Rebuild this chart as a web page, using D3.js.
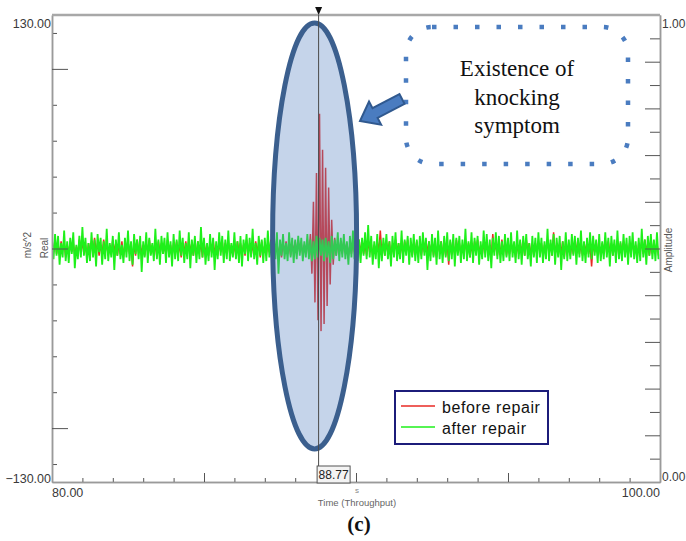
<!DOCTYPE html>
<html>
<head>
<meta charset="utf-8">
<script src="https://cdn.jsdelivr.net/npm/d3@7"></script>
<style>
  body { margin: 0; background: #fff; }
  svg { display: block; }
</style>
</head>
<body>
<div id="chartbox"></div>
<script>
// acceleration (m/s^2), one sample every 0.05 s from 80.00 s
var afterRepair = [
  5,-6,8,-4,7,-9,3,-5,10,-7,4,-8,6,-3,9,-11,2,-6,7,-5,
  12,-4,6,-8,3,-7,9,-5,5,-10,8,-2,6,-9,4,-6,11,-7,3,-5,
  7,-12,5,-4,9,-6,2,-8,6,-5,10,-7,4,-9,8,-3,5,-6,7,-13,
  4,-5,9,-8,6,-4,3,-7,11,-6,5,-9,7,-3,6,-8,9,-5,4,-10,
  8,-6,5,-7,10,-4,6,-8,3,-6,9,-11,5,-4,7,-8,4,-6,12,-5,
  6,-9,3,-7,8,-5,6,-12,4,-6,9,-4,7,-8,5,-6,10,-7,3,-5,
  9,-6,4,-8,7,-10,5,-3,8,-7,6,-5,11,-6,3,-9,7,-4,5,-8,
  6,-7,10,-5,4,-8,7,-6,9,-14,5,-4,8,-6,3,-7,9,-5,6,-8,
  5,-6,7,-4,6,-7,4,-5,8,-6,5,-7,4,-6,7,-5,6,-4,5,-7,
  6,-5,4,-8,7,-6,5,-4,9,-7,6,-5,8,-6,4,-9,7,-5,10,-6,
  11,-7,5,-8,6,-4,9,-6,13,-5,7,-9,4,-6,8,-11,5,-7,6,-4,
  8,-6,4,-10,7,-5,9,-7,3,-6,10,-8,5,-4,7,-9,6,-5,8,-7,
  5,-8,7,-6,9,-4,6,-12,4,-7,8,-5,6,-9,10,-6,4,-8,7,-5,
  9,-7,5,-6,8,-10,6,-4,7,-8,5,-6,11,-7,4,-5,9,-8,6,-4,
  7,-9,4,-6,10,-5,8,-7,5,-11,6,-4,9,-6,7,-8,4,-7,8,-5,
  6,-7,9,-5,4,-8,10,-6,5,-9,7,-4,8,-6,3,-10,7,-5,6,-8,
  9,-5,6,-8,4,-6,11,-7,5,-4,8,-9,6,-5,7,-12,4,-6,9,-7,
  5,-6,8,-4,7,-9,6,-5,10,-7,4,-8,6,-5,9,-6,7,-4,5,-8,
  8,-7,4,-6,9,-5,6,-10,7,-4,5,-8,10,-6,4,-7,8,-5,6,-9,
  7,-5,9,-6,4,-8,6,-7,11,-5,5,-9,7,-4,8,-6,5,-7,9,-6
];
var beforeRepair = [
  3,-2,5,-3,2,-4,4,-1,3,-5,2,-3,4,-2,3,-4,1,-3,5,-2,
  4,-3,2,-5,3,-2,4,-3,6,-2,3,-4,2,-3,5,-2,3,-4,2,-3,
  5,-2,3,-4,2,-3,4,-5,3,-2,4,-3,2,-10,3,-4,5,-2,3,-3,
  2,-4,3,-2,5,-3,2,-4,3,-5,4,-2,3,-3,2,-4,5,-3,2,-4,
  3,-2,4,-3,2,-5,3,-2,4,-3,5,-2,3,-4,2,-3,4,-2,3,-5,
  4,-3,2,-4,3,-2,5,-3,2,-4,3,-2,4,-5,3,-2,4,-3,2,-4,
  3,-5,4,-2,3,-3,2,-4,5,-2,3,-4,2,-3,4,-2,3,-5,4,-3,
  2,-4,3,-2,5,-3,4,-2,3,-4,2,-5,3,-2,4,-3,2,-4,3,-2,
  4,-3,5,-2,3,-4,2,-3,5,-4,8,-14,26,-30,42,-40,75,-46,55,-42,
  45,-32,34,-20,16,-9,6,-4,3,-2,4,-3,5,-2,3,-4,2,-3,4,-2,
  3,-4,5,-2,3,-3,2,-4,4,-2,3,-5,2,-3,4,-2,10,-3,2,-4,
  3,-2,4,-5,2,-3,5,-2,3,-4,2,-3,4,-2,5,-3,2,-4,3,-2,
  4,-3,2,-4,3,-2,5,-3,4,-2,3,-4,2,-5,3,-2,4,-3,2,-4,
  3,-9,4,-2,3,-4,5,-2,3,-3,2,-4,4,-2,3,-5,2,-3,4,-2,
  5,-3,2,-4,3,-2,4,-3,2,-4,8,-2,3,-4,2,-3,5,-2,3,-4,
  2,-3,4,-2,3,-5,2,-3,4,-2,3,-4,5,-2,3,-3,2,-4,3,-2,
  4,-2,3,-4,2,-3,5,-2,3,-4,9,-3,2,-4,3,-2,4,-5,3,-2,
  3,-4,2,-3,4,-2,5,-3,2,-4,3,-2,4,-3,2,-10,3,-2,4,-3,
  2,-4,3,-2,5,-3,4,-2,3,-4,2,-3,4,-5,3,-2,4,-3,2,-4,
  3,-2,4,-3,2,-5,3,-2,4,-3,5,-2,3,-4,2,-3,4,-2,3,-4
];
var tStart = 80, tStep = 0.05;
var seriesNames = ["before repair", "after repair"];
var seriesColors = ["#e82a24", "#1ef01a"];
var yMinorTicks = [-120, -80, -60, -40, -20, 20, 40, 60, 80, 120];
var yMajorTicks = [-100, 0, 100];
var xMinorTicks = [81, 82, 83, 84, 86, 87, 88, 89, 91, 92, 93, 94, 96, 97, 98, 99];
var xMajorTicks = [85, 90, 95];
var ampMinorTicks = [0.05, 0.15, 0.25, 0.35, 0.45, 0.55, 0.65, 0.75, 0.85, 0.95];
var ampMajorTicks = [0.1, 0.2, 0.3, 0.4, 0.5, 0.6, 0.7, 0.8, 0.9];
var cursorTime = 88.77;
var calloutLines = ["Existence of", "knocking", "symptom"];

var sans = '"Liberation Sans", Arial, sans-serif';
var serif = '"Liberation Serif", "Times New Roman", serif';

var W = 686, H = 541;
var margin = { top: 15, right: 26, bottom: 59, left: 52 },
    width = W - margin.left - margin.right,
    height = H - margin.top - margin.bottom;

var svg = d3.select('#chartbox').append('svg')
    .attr('width', W)
    .attr('height', H)
    .style('background', '#fff');
var g = svg.append('g')
    .attr('transform', 'translate(' + [margin.left, margin.top] + ')');

var x = d3.scaleLinear().domain([80, 100]).range([0, width]);
var y = d3.scaleLinear().domain([-130, 130]).range([height, 0]);
var yAmp = d3.scaleLinear().domain([0, 1]).range([height, 0]);

g.append('clipPath').attr('id', 'plotclip')
  .append('rect').attr('width', width).attr('height', height);

// signals: red underneath, green on top
var line = d3.line()
    .x((d, i) => x(tStart + i * tStep))
    .y(d => y(d));
var plot = g.append('g').attr('clip-path', 'url(#plotclip)');
plot.append('path').datum(beforeRepair)
    .attr('d', line).attr('fill', 'none')
    .attr('stroke', seriesColors[0]).attr('stroke-width', 1.5);
plot.append('path').datum(afterRepair)
    .attr('d', line).attr('fill', 'none')
    .attr('stroke', seriesColors[1]).attr('stroke-width', 1.8);

// axes (ticks point into the plot)
function styleAxis(sel) {
  sel.selectAll('text').remove();
  sel.select('.domain').attr('stroke', '#9a9a9a').attr('stroke-width', 1.5);
  sel.selectAll('.tick line').attr('stroke', '#555');
}
g.append('g').call(d3.axisRight(y).tickValues(yMinorTicks).tickSize(5).tickSizeOuter(0)).call(styleAxis);
g.append('g').call(d3.axisRight(y).tickValues(yMajorTicks).tickSize(16).tickSizeOuter(0)).call(styleAxis);
g.append('g').attr('transform', 'translate(0,' + height + ')')
  .call(d3.axisTop(x).tickValues(xMinorTicks).tickSize(4).tickSizeOuter(0)).call(styleAxis);
g.append('g').attr('transform', 'translate(0,' + height + ')')
  .call(d3.axisTop(x).tickValues(xMajorTicks).tickSize(9).tickSizeOuter(0)).call(styleAxis);
g.append('g').attr('transform', 'translate(' + width + ',0)')
  .call(d3.axisLeft(yAmp).tickValues(ampMinorTicks).tickSize(10).tickSizeOuter(0)).call(styleAxis);
g.append('g').attr('transform', 'translate(' + width + ',0)')
  .call(d3.axisLeft(yAmp).tickValues(ampMajorTicks).tickSize(15).tickSizeOuter(0)).call(styleAxis);
g.append('line')
  .attr('x1', 0).attr('x2', width).attr('y1', 0).attr('y2', 0)
  .attr('stroke', '#a8a8a8').attr('stroke-width', 2.5);

// end labels
function lbl(px, py, txt, anchor, size) {
  return svg.append('text').attr('x', px).attr('y', py).text(txt)
    .attr('text-anchor', anchor || 'start')
    .style('font-family', sans).style('font-size', (size || 12.5) + 'px').style('fill', '#3a3a3a');
}
lbl(margin.left - 1, margin.top + y(130) + 13, d3.format('.2f')(130), 'end');
lbl(margin.left - 1, margin.top + y(-130) + 1, d3.format('.2f')(-130), 'end');
lbl(margin.left, margin.top + height + 15, d3.format('.2f')(80), 'start');
lbl(margin.left + width, margin.top + height + 15, d3.format('.2f')(100), 'end');
lbl(margin.left + width + 2, margin.top + yAmp(1) + 13, d3.format('.2f')(1), 'start', 12);
lbl(margin.left + width + 2, margin.top + yAmp(0) - 1, d3.format('.2f')(0), 'start', 12);
lbl(margin.left + x(90) + 1, margin.top + height + 11, 's', 'middle', 8).style('fill', '#888');
lbl(margin.left + x(90) + 1, margin.top + height + 24, 'Time (Throughput)', 'middle', 9.5).style('fill', '#666');

lbl(0, 0, 'm/s^2', 'middle', 10).style('fill', '#555')
  .attr('transform', 'translate(31,245) rotate(-90)');
lbl(0, 0, 'Real', 'middle', 10).style('fill', '#555')
  .attr('transform', 'translate(48,248) rotate(-90)');
lbl(0, 0, 'Amplitude', 'middle', 10).style('fill', '#555')
  .attr('transform', 'translate(672,250) rotate(-90)');

// highlight ellipse around the knock (translucent, signal shows through)
var cx = margin.left + x(cursorTime) - 4;
svg.append('ellipse')
  .attr('cx', cx).attr('cy', margin.top + y(7))
  .attr('rx', 42).attr('ry', 213)
  .attr('fill', 'rgb(89,132,195)').attr('fill-opacity', 0.35)
  .attr('stroke', '#3b5f8e').attr('stroke-width', 5);

// cursor
var cxCur = margin.left + x(cursorTime);
svg.append('line')
  .attr('x1', cxCur).attr('x2', cxCur)
  .attr('y1', margin.top).attr('y2', margin.top + height - 16)
  .attr('stroke', '#4a4a4a').attr('stroke-width', 1);
svg.append('path')
  .attr('d', 'M' + (cxCur - 3.5) + ',7L' + (cxCur + 3.5) + ',7L' + cxCur + ',15Z')
  .attr('fill', '#111');
svg.append('rect')
  .attr('x', cxCur - 1.5).attr('y', margin.top + height - 16)
  .attr('width', 33).attr('height', 17)
  .attr('fill', '#f3f3f3').attr('stroke', '#555').attr('stroke-width', 1);
lbl(cxCur + 15, margin.top + height - 3, d3.format('.2f')(cursorTime), 'middle', 12).style('fill', '#222');

// callout box
svg.append('rect')
  .attr('x', 406).attr('y', 27).attr('width', 222).attr('height', 137)
  .attr('rx', 26).attr('ry', 26)
  .attr('fill', '#fff')
  .attr('stroke', '#4a7cc0').attr('stroke-width', 4.5)
  .attr('stroke-dasharray', '4.5,17');
calloutLines.forEach(function (t, i) {
  svg.append('text').attr('x', 517).attr('y', 76 + i * 28.5).text(t)
    .attr('text-anchor', 'middle')
    .style('font-family', serif).style('font-size', '23px').style('fill', '#111');
});

// block arrow pointing at the ellipse
var T = [402, 99], P = [360, 121];
var dx = P[0] - T[0], dy = P[1] - T[1], len = Math.hypot(dx, dy);
var u = [dx / len, dy / len], n = [-u[1], u[0]];
var w = 5.5, hw = 13, hl = 17;
var B = [P[0] - u[0] * hl, P[1] - u[1] * hl];
var pts = [
  [T[0] + n[0] * w, T[1] + n[1] * w],
  [B[0] + n[0] * w, B[1] + n[1] * w],
  [B[0] + n[0] * hw, B[1] + n[1] * hw],
  P,
  [B[0] - n[0] * hw, B[1] - n[1] * hw],
  [B[0] - n[0] * w, B[1] - n[1] * w],
  [T[0] - n[0] * w, T[1] - n[1] * w]
];
svg.append('polygon')
  .attr('points', pts.map(p => p.join(',')).join(' '))
  .attr('fill', '#4a7cc0').attr('stroke', '#30598f').attr('stroke-width', 2);

// legend
var leg = svg.append('g').attr('transform', 'translate(395,391)');
leg.append('rect').attr('width', 153).attr('height', 53)
  .attr('fill', '#fff').attr('stroke', '#1c1c7a').attr('stroke-width', 2);
seriesNames.forEach(function (s, i) {
  leg.append('line').attr('x1', 6).attr('x2', 40)
    .attr('y1', 15 + i * 21).attr('y2', 15 + i * 21)
    .attr('stroke', seriesColors[i]).attr('stroke-width', 1.5);
  leg.append('text').attr('x', 47).attr('y', 22 + i * 21).text(s)
    .style('font-family', sans).style('font-size', '16px')
    .style('letter-spacing', '0.6px').style('fill', '#111');
});

// caption
svg.append('text').attr('x', 359).attr('y', 531).text('(c)')
  .attr('text-anchor', 'middle')
  .style('font-family', serif).style('font-size', '21px')
  .style('font-weight', 'bold').style('fill', '#111');
</script>
</body>
</html>
